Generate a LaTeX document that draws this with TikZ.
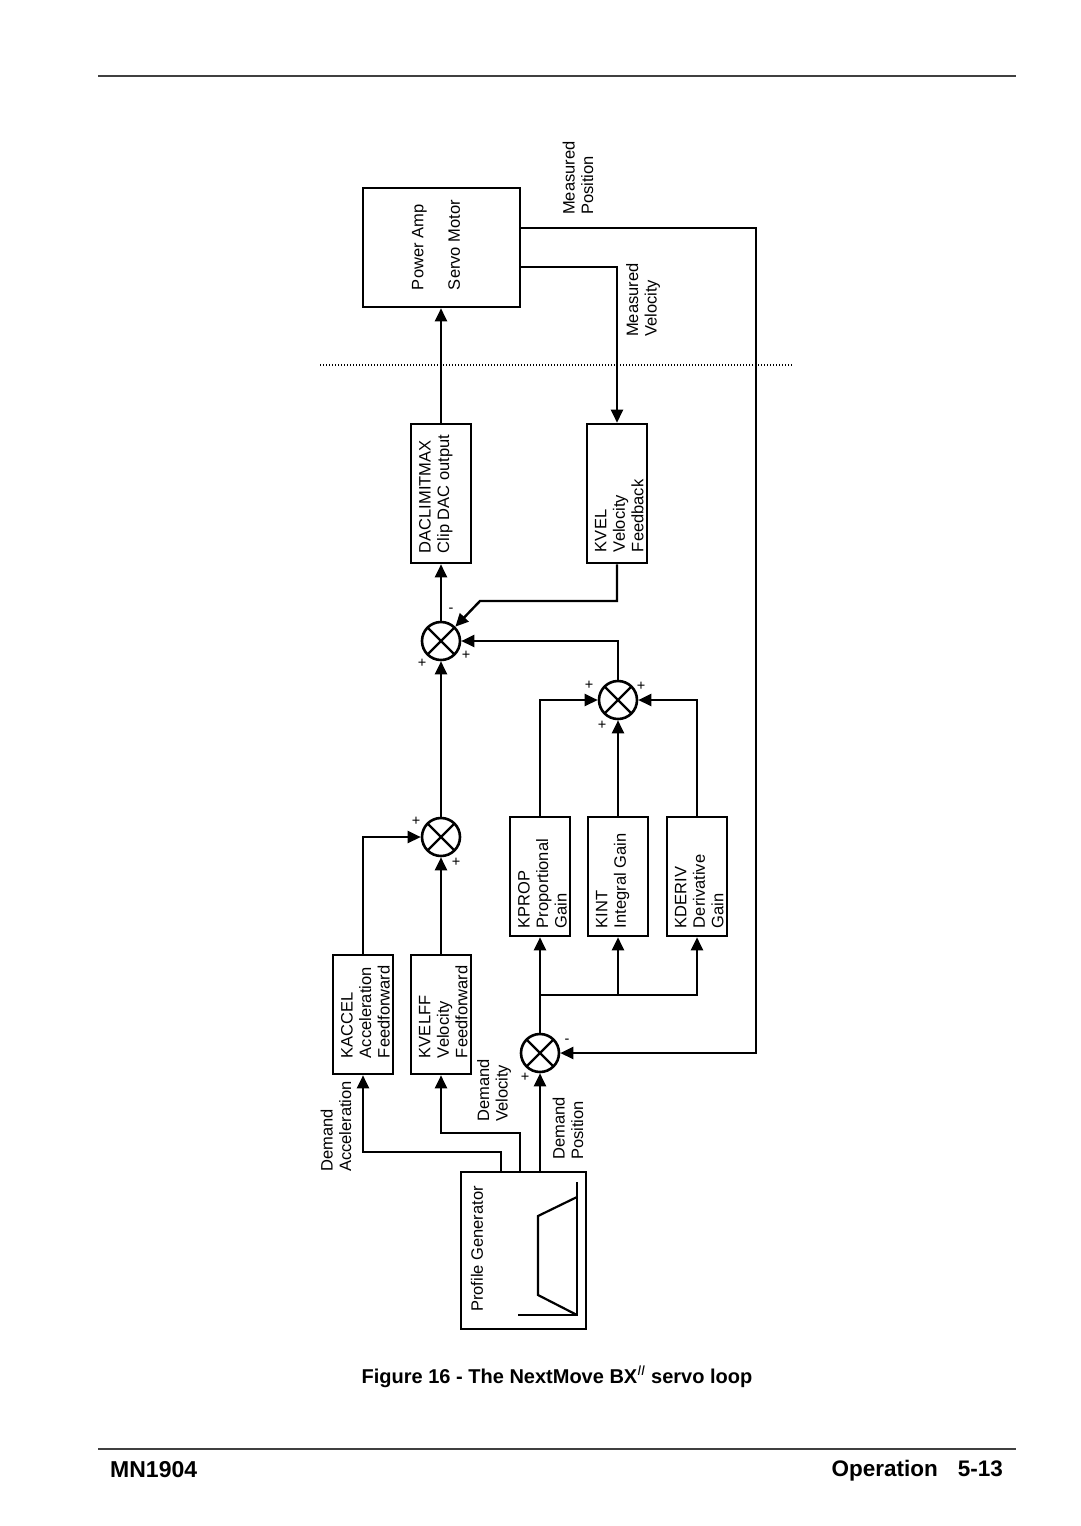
\documentclass[tikz,border=0pt]{standalone}
\usepackage{fontspec}
\setmainfont{Liberation Sans}
\usepackage{graphicx}
\usetikzlibrary{arrows.meta}

\newcommand{\blocktext}[4]{\rotatebox{90}{\begin{minipage}[c][#2][t]{#1}\raggedright\leftskip=#3\relax #4\end{minipage}}}

\begin{document}
\begin{tikzpicture}[x=1pt,y=-1pt,
    blk/.style={draw, line width=2.6pt, inner sep=0pt, minimum width=60pt, font=\fontsize{16.5}{18.5}\selectfont},
    sumj/.style={circle, draw, line width=2.6pt, minimum size=38pt, inner sep=0pt,
        path picture={\draw[line width=2.4pt] (path picture bounding box.north west) -- (path picture bounding box.south east)
            (path picture bounding box.north east) -- (path picture bounding box.south west);}},
    sgn/.style={inner sep=0pt, font=\fontsize{14.5}{14.5}\selectfont},
    lbl/.style={rotate=90, anchor=west, align=left, inner sep=0pt, font=\fontsize{16.5}{18.5}\selectfont},
    ln/.style={line width=2.4pt},
    arr/.style={line width=2.4pt, -{Triangle[length=13pt,width=12pt]}}]
    \useasboundingbox (0,0) rectangle (1080,1526);

    % page rules
    \draw[line width=2pt, black!75] (98,76) -- (1016,76);
    \draw[line width=2pt, black!75] (98,1449) -- (1016,1449);

    % blocks
    \node[blk, minimum width=157pt, minimum height=119pt] (PA) at (441.5,247.5) {\blocktext{119pt}{59pt}{17pt}{Power Amp\\[18pt]Servo Motor}};
    \node[blk, minimum height=139pt] (DAC) at (441,493.5) {\blocktext{139pt}{44pt}{10pt}{DACLIMITMAX\\Clip DAC output}};
    \node[blk, minimum height=139pt] (KVEL) at (617,493.5) {\blocktext{139pt}{44pt}{11pt}{KVEL\\Velocity\\Feedback}};
    \node[blk, minimum height=119pt] (KPROP) at (540,876.5) {\blocktext{119pt}{44pt}{8pt}{KPROP\\Proportional\\Gain}};
    \node[blk, minimum height=119pt] (KINT) at (618,876.5) {\blocktext{119pt}{44pt}{8pt}{KINT\\Integral Gain}};
    \node[blk, minimum height=119pt] (KDERIV) at (697,876.5) {\blocktext{119pt}{44pt}{8pt}{KDERIV\\Derivative\\Gain}};
    \node[blk, minimum height=119pt] (KACCEL) at (363,1014.5) {\blocktext{119pt}{44pt}{16pt}{KACCEL\\Acceleration\\Feedforward}};
    \node[blk, minimum height=119pt] (KVELFF) at (441,1014.5) {\blocktext{119pt}{44pt}{16pt}{KVELFF\\Velocity\\Feedforward}};
    \node[blk, minimum width=125pt, minimum height=157pt] (PG) at (523.5,1250.5) {};
    \node[lbl] (PGt) at (477,1312) {Profile Generator};
    \draw[line width=2.2pt] (577,1182) -- (577,1315) -- (518,1315);
    \draw[line width=2.2pt] (577,1197) -- (538,1216) -- (538,1295) -- (577,1315);

    % summing junctions
    \node[sumj] (S1) at (441,641) {};
    \node[sumj] (S2) at (618,700) {};
    \node[sumj] (S3) at (441,837) {};
    \node[sumj] (S4) at (540,1053) {};

    % signs
    \node[sgn] (s1a) at (451,610) {-};
    \node[sgn] (s1b) at (466,655) {+};
    \node[sgn] (s1c) at (422,663) {+};
    \node[sgn] (s2a) at (589,685) {+};
    \node[sgn] (s2b) at (641,686) {+};
    \node[sgn] (s2c) at (602,725) {+};
    \node[sgn] (s3a) at (416,821) {+};
    \node[sgn] (s3b) at (456,862) {+};
    \node[sgn] (s4a) at (567,1041) {-};
    \node[sgn] (s4b) at (525,1077) {+};

    % signal labels
    \node[lbl] (MP) at (578,215) {Measured\\Position};
    \node[lbl] (MV) at (643,337) {Measured\\Velocity};
    \node[lbl] (DA) at (336,1172) {Demand\\Acceleration};
    \node[lbl] (DV) at (494,1122) {Demand\\Velocity};
    \node[lbl] (DP) at (568,1160) {Demand\\Position};

    \draw[line width=1.2pt, dash pattern=on 1.2pt off 1.8pt] (320,365) -- (792,365);

    % connectors
    \coordinate (mp) at (756,228);
    \coordinate (mv) at (617,267);
    \coordinate (kb) at (480,601);
    \coordinate (pb) at (540,995);
    \coordinate (dv) at (520,1133);
    \coordinate (da) at (501,1152);

    \draw[arr] (DAC.north) -- (DAC.north |- PA.south);
    \draw[arr] (PA.east |- mp) -- (mp) |- (S4.east);
    \draw[arr] (PA.east |- mv) -- (mv) -- (KVEL.north);
    \draw[arr] (KVEL.south) |- (kb) -- (S1.north east);
    \draw[arr] (S2.north) |- (S1.east);
    \draw[arr] (S1.north) -- (DAC.south);
    \draw[arr] (S3.north) -- (S1.south);
    \draw[arr] (KACCEL.north) |- (S3.west);
    \draw[arr] (KVELFF.north) -- (S3.south);
    \draw[arr] (KPROP.north) |- (S2.west);
    \draw[arr] (KINT.north) -- (S2.south);
    \draw[arr] (KDERIV.north) |- (S2.east);
    \draw[arr] (S4.north) -- (KPROP.south);
    \draw[arr] (pb) -| (KDERIV.south);
    \draw[arr] (KINT.south |- pb) -- (KINT.south);
    \draw[arr] (S4.south |- PG.north) -- (S4.south);
    \draw[arr] (dv |- PG.north) -- (dv) -| (KVELFF.south);
    \draw[arr] (da |- PG.north) -- (da) -| (KACCEL.south);

    % caption and footer
    \node[anchor=base, inner sep=0pt, font=\fontsize{20}{24}\selectfont\bfseries] (cap) at (557,1383)
        {Figure 16 - The NextMove BX\textsuperscript{\mdseries\itshape II} servo loop};
    \node[anchor=base west, inner sep=0pt, font=\fontsize{23}{27}\selectfont\bfseries] (fl) at (110,1477) {MN1904};
    \node[anchor=base east, inner sep=0pt, font=\fontsize{22.5}{27}\selectfont\bfseries] (fr) at (1003,1476) {Operation\hspace{20pt}5-13};
\end{tikzpicture}
\end{document}
